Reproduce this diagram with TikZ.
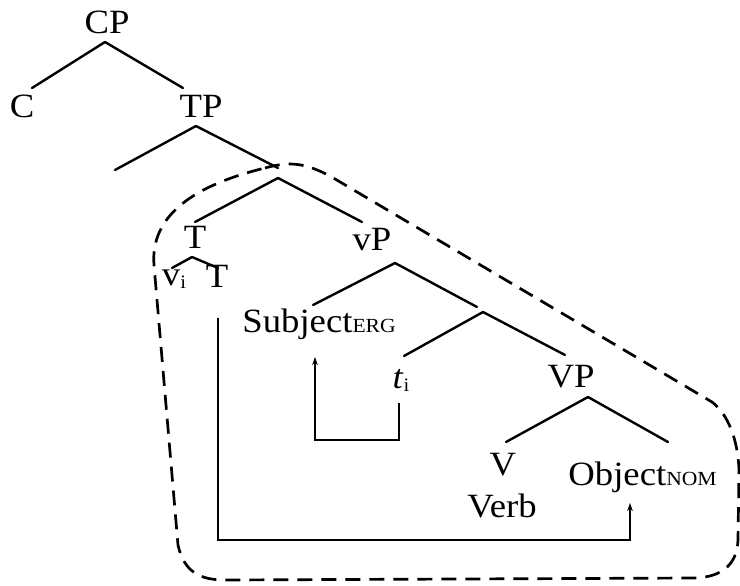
\documentclass[tikz,border=0pt]{standalone}
\usepackage{fontspec}
\setmainfont{Liberation Serif}[FakeStretch=1.08]
\usetikzlibrary{arrows.meta}
\tikzset{
  >={Stealth[length=4pt,width=2.8pt]},
  lbl/.style={inner sep=0pt,anchor=base,font=\fontsize{17}{20}\selectfont},
  br/.style={line width=1.2pt,line cap=round},
  mv/.style={line width=0.6pt},
  hull/.style={line width=1.35pt,dash pattern=on 7.5pt off 4.5pt},
}
\newcommand{\gsub}[1]{{\fontsize{10}{11}\selectfont #1}}
\newcommand{\isub}[1]{\raisebox{-1.5pt}{\fontsize{9.5}{10}\selectfont #1}}

\begin{document}
\begin{tikzpicture}[x=0.5pt,y=-0.5pt]
  \useasboundingbox (0,0) rectangle (740,585);
  % labels
  \node[lbl] (cp) at (107,33) {CP};
  \node[lbl] (c) at (22,117) {C};
  \node[lbl] (tp) at (201,117) {TP};
  \node[lbl] (t) at (195,248) {T};
  \node[lbl] (vp) at (372,250) {vP};
  \node[lbl] (vi) at (174,285) {v\isub{i}};
  \node[lbl] (t2) at (217,287) {T};
  \node[lbl,anchor=base west] (subj) at (242,332) {Subject\gsub{ERG}};
  \node[lbl] (ti) at (401,388) {\textit{t}\isub{i}};
  \node[lbl] (vpp) at (571,387) {VP};
  \node[lbl] (v) at (503,475) {V};
  \node[lbl] (verb) at (502,517) {Verb};
  \node[lbl,anchor=base west] (obj) at (568,485) {Object\gsub{NOM}};
  % junctions and branch ends
  \foreach \n/\x/\y in {jcp/105/42, jtp/196/126, jtb/278/178, jt/192/257, jvp/395/263, jvb/483/312, jvv/588/397,
      ec/32/88, etp/183/88, espec/115/170, etb/278/168, et/195/222, evp/362/222, evi/172/268, et2/218/268,
      esubj/313/305, evb/477/307, eti/404/356, evv/565/355, ev/506/442, eobj/668/442}
    \coordinate (\n) at (\x,\y);
  \foreach \a/\b in {jcp/ec, jcp/etp, jtp/espec, jtp/etb, jtb/et, jtb/evp, jt/evi, jt/et2,
      jvp/esubj, jvp/evb, jvb/eti, jvb/evv, jvv/ev, jvv/eobj}
    \draw[br] (\a) -- (\b);
  % movement
  \coordinate (ti-ft) at (399,403); \coordinate (subj-ft) at (315,357);
  \coordinate (t2-ft) at (218,318); \coordinate (obj-ft) at (630,503);
  \draw[mv,->] (ti-ft) -- ++(0,37) -| (subj-ft);
  \draw[mv,->] (t2-ft) -- ++(0,222) -| (obj-ft);
  % dashed domain
  \draw[hull] (265,168) .. controls (290,161) and (305,163) .. (330,176) -- (712,402)
    .. controls (728,414) and (738,440) .. (739,470) -- (738,540)
    .. controls (737,566) and (720,578) .. (692,578) -- (225,580)
    .. controls (200,580) and (184,572) .. (178,545) -- (154,265)
    .. controls (150,215) and (195,185) .. (265,168);
\end{tikzpicture}
\end{document}
